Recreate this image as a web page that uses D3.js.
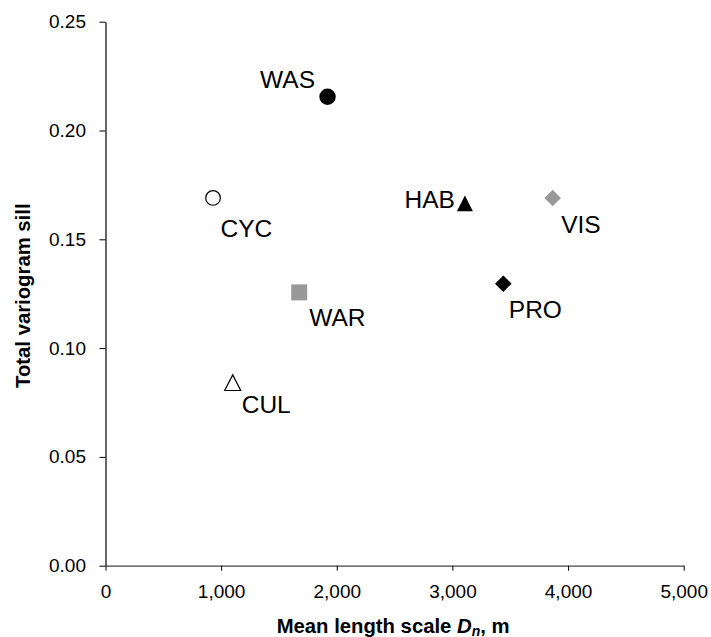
<!doctype html>
<html>
  <head>
    <meta charset="utf-8">
    <title>Total variogram sill vs mean length scale</title>
    <script src="https://cdnjs.cloudflare.com/ajax/libs/d3/7.8.5/d3.min.js"></script>
    <style>
      body { margin: 0; background: #fff; }
      svg text { font-family: "Liberation Sans", Arial, sans-serif; fill: #000; }
    </style>
  </head>
  <body>
    <div id="chart"></div>
    <script>
      // data
      const names = ['WAS', 'CYC', 'WAR', 'CUL', 'HAB', 'VIS', 'PRO'];
      const lengthScale = [1920, 930, 1675, 1100, 3108, 3867, 3440];
      const sill = [0.2155, 0.169, 0.1256, 0.0841, 0.1665, 0.169, 0.1296];
      const xTicks = [0, 1000, 2000, 3000, 4000, 5000];
      const yTicks = [0, 0.05, 0.10, 0.15, 0.20, 0.25];

      // marker look and label placement for each point
      const shapes = ['circle', 'circle', 'square', 'triangle', 'triangle', 'diamond', 'diamond'];
      const fills = ['#000', '#fff', '#999', '#fff', '#000', '#999', '#000'];
      const strokes = ['#000', '#000', '#999', '#000', '#000', '#999', '#000'];
      const labelDx = [-12.5, 7.5, 10, 9, -10, 8.5, 5.5];
      const labelDy = [-8.5, 39.5, 33.5, 30.5, 5, 35, 34.3];
      const labelAnchor = ['end', 'start', 'start', 'start', 'end', 'start', 'start'];

      const width = 711, height = 637;
      const x = d3.scaleLinear().domain([0, 5000]).range([105.5, 683.7]);
      const y = d3.scaleLinear().domain([0, 0.25]).range([565.7, 21.7]);

      const svg = d3.select('#chart')
        .append('svg')
        .attr('width', width)
        .attr('height', height);

      // axes
      const yAxis = svg.append('g')
        .attr('transform', `translate(${x(0)},0)`)
        .call(d3.axisLeft(y).tickValues(yTicks).tickFormat(d3.format('.2f'))
          .tickSize(6).tickSizeOuter(0).tickPadding(13.5));

      const xAxis = svg.append('g')
        .attr('transform', `translate(0,${y(0)})`)
        .call(d3.axisBottom(x).tickValues(xTicks).tickFormat(d3.format(','))
          .tickSize(5).tickSizeOuter(0).tickPadding(14));

      [xAxis, yAxis].forEach(g => {
        g.selectAll('text').style('font-size', '19px').attr('fill', '#000')
          .style('font-family', '"Liberation Sans", Arial, sans-serif');
        g.selectAll('line').attr('stroke', '#000');
        g.select('.domain').attr('stroke', '#000').attr('stroke-width', 1.2);
      });
      xAxis.select('.domain').attr('stroke', '#444');

      // axis titles
      svg.append('text')
        .attr('transform', `translate(29.5,${(y(0) + y(0.25)) / 2 + 2}) rotate(-90)`)
        .attr('text-anchor', 'middle')
        .style('font-size', '20.3px')
        .style('font-weight', 'bold')
        .text('Total variogram sill');

      const xTitle = svg.append('text')
        .attr('x', (x(0) + x(5000)) / 2 - 1.5)
        .attr('y', 633)
        .attr('text-anchor', 'middle')
        .style('font-size', '20.3px')
        .style('font-weight', 'bold');
      xTitle.append('tspan').text('Mean length scale ');
      xTitle.append('tspan').style('font-style', 'italic').text('D');
      xTitle.append('tspan').style('font-style', 'italic').style('font-size', '14px')
        .attr('dy', 2.5).text('n');
      xTitle.append('tspan').attr('dy', -2.5).text(', m');

      // marker paths, all centred on the point
      function markerPath(shape) {
        if (shape === 'circle') return null;
        if (shape === 'square') return 'M-8,-8H8V8H-8Z';
        if (shape === 'triangle') return 'M0,-7.8L8,7.8H-8Z';
        return 'M0,-8.3L8.3,0L0,8.3L-8.3,0Z';
      }

      const pts = svg.append('g')
        .selectAll('g')
        .data(names.map((n, i) => i))
        .join('g')
        .attr('transform', i => `translate(${x(lengthScale[i])},${y(sill[i])})`);

      pts.filter(i => shapes[i] === 'circle')
        .append('circle')
        .attr('r', i => fills[i] === '#fff' ? 7.3 : 8.2)
        .attr('fill', i => fills[i])
        .attr('stroke', i => strokes[i])
        .attr('stroke-width', i => fills[i] === '#fff' ? 1.2 : 0);

      pts.filter(i => shapes[i] !== 'circle')
        .append('path')
        .attr('d', i => markerPath(shapes[i]))
        .attr('fill', i => fills[i])
        .attr('stroke', i => strokes[i])
        .attr('stroke-width', i => fills[i] === '#fff' ? 1.2 : 0);

      pts.append('text')
        .attr('x', i => labelDx[i])
        .attr('y', i => labelDy[i])
        .attr('text-anchor', i => labelAnchor[i])
        .style('font-size', '24.5px')
        .text(i => names[i]);
    </script>
  </body>
</html>
